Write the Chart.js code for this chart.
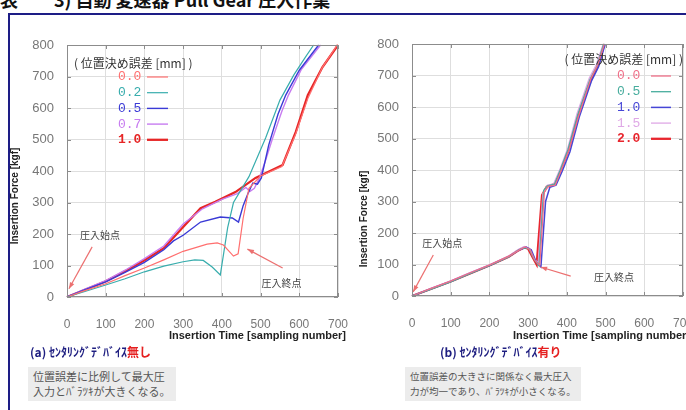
<!DOCTYPE html>
<html lang="ja">
<head>
<meta charset="utf-8">
<script src="https://cdn.jsdelivr.net/npm/chart.js"></script>
<style>
  html, body { margin: 0; padding: 0; }
  body {
    width: 686px; height: 410px; position: relative; overflow: hidden; background: #fff;
    font-family: 'Liberation Sans', 'Noto Sans CJK JP', sans-serif;
  }
  #heading {
    position: absolute; left: 0; top: -14px; white-space: nowrap; color: #111;
    font: bold 18px 'Noto Sans CJK JP', 'Liberation Sans', sans-serif;
  }
  .rule-top { position: absolute; left: 8px; top: 13px; width: 678px; height: 2px; background: #1d1d86; }
  .rule-left { position: absolute; left: 8px; top: 13px; width: 2px; height: 397px; background: #1d1d86; }
  .panel { position: absolute; top: 25px; width: 360px; height: 330px; }
  .caption {
    position: absolute; top: 343px; white-space: nowrap; color: #1d1d80;
    font: bold 12px 'Noto Sans CJK JP', sans-serif;
  }
  .caption em { font-style: normal; color: #e52020; }
  .note {
    position: absolute; top: 367px; padding: 2px 5px; background: #ececec; color: #555;
    font: 11px/15px 'Noto Sans CJK JP', sans-serif; white-space: nowrap;
  }
  .note.small { font-size: 9.5px; line-height: 15px; }
</style>
</head>
<body>
<div id="heading">表　　3) 自動 変速器 Pull Gear 圧入作業</div>
<div class="rule-top"></div>
<div class="rule-left"></div>

<div class="panel" style="left:0px"><canvas id="chartA" width="360" height="330"></canvas></div>
<div class="panel" style="left:345px"><canvas id="chartB" width="360" height="330"></canvas></div>

<div class="caption" style="left:30px">(a) ｾﾝﾀﾘﾝｸﾞﾃﾞﾊﾞｲｽ<em>無し</em></div>
<div class="caption" style="left:440px">(b) ｾﾝﾀﾘﾝｸﾞﾃﾞﾊﾞｲｽ<em>有り</em></div>
<div class="note" style="left:28px">位置誤差に比例して最大圧<br>入力とﾊﾞﾗﾂｷが大きくなる。</div>
<div class="note small" style="left:405px">位置誤差の大きさに関係なく最大圧入<br>力が均一であり、ﾊﾞﾗﾂｷが小さくなる。</div>

<script>
// axis ticks (shared by both panels)
const timeTicks = [0, 100, 200, 300, 400, 500, 600, 700];
const forceTicks = [0, 100, 200, 300, 400, 500, 600, 700, 800];

// (a) without centering device: misalignment [mm]
const errA = ['0.0', '0.2', '0.5', '0.7', '1.0'];
const timeA0 = [0, 40, 100, 150, 200, 250, 300, 362, 388, 404, 430, 442, 455, 470, 500, 555, 590, 622, 660, 698];
const forceA0 = [0, 18, 42, 68, 92, 118, 145, 168, 172, 165, 130, 137, 250, 345, 384, 414, 515, 630, 730, 800];
const timeA1 = [0, 40, 100, 150, 200, 250, 300, 330, 352, 375, 396, 415, 430, 470, 513, 550, 586, 615, 637];
const forceA1 = [0, 15, 38, 58, 80, 98, 112, 118, 116, 95, 70, 220, 300, 382, 505, 625, 705, 760, 800];
const timeA2 = [0, 40, 100, 150, 200, 250, 275, 300, 345, 396, 427, 443, 455, 469, 480, 492, 502, 521, 545, 565, 600, 650];
const forceA2 = [0, 20, 48, 78, 110, 150, 178, 196, 238, 254, 251, 238, 290, 333, 362, 358, 378, 482, 580, 641, 720, 800];
const timeA3 = [0, 40, 100, 150, 200, 250, 300, 350, 400, 440, 462, 472, 484, 496, 512, 530, 555, 572, 605, 655];
const forceA3 = [0, 22, 52, 85, 122, 162, 232, 280, 310, 328, 348, 335, 345, 375, 430, 500, 590, 641, 722, 800];
const timeA4 = [0, 40, 100, 150, 200, 250, 300, 345, 383, 435, 487, 557, 591, 622, 660, 700];
const forceA4 = [0, 20, 50, 82, 117, 155, 222, 282, 302, 333, 378, 419, 524, 641, 730, 800];

// (b) with centering device: misalignment [mm]
const errB = ['0.0', '0.5', '1.0', '1.5', '2.0'];
const timeB0 = [0, 50, 100, 150, 200, 250, 275, 292, 305, 318, 330, 342, 352, 370, 385, 405, 430, 462, 480, 497];
const forceB0 = [0, 24, 47, 73, 98, 126, 145, 156, 148, 112, 98, 330, 348, 352, 398, 462, 570, 690, 735, 800];
const timeB1 = [0, 50, 100, 150, 200, 250, 275, 290, 303, 316, 328, 340, 350, 368, 383, 403, 428, 460, 478, 495];
const forceB1 = [0, 22, 45, 71, 96, 124, 146, 153, 150, 115, 96, 335, 350, 355, 400, 465, 575, 688, 730, 800];
const timeB2 = [0, 50, 100, 150, 200, 250, 278, 295, 308, 320, 333, 345, 356, 372, 388, 408, 432, 464, 482, 499];
const forceB2 = [0, 23, 46, 72, 97, 125, 147, 155, 147, 110, 92, 300, 345, 352, 396, 458, 568, 684, 728, 800];
const timeB3 = [0, 50, 100, 150, 200, 250, 275, 290, 302, 315, 326, 338, 350, 366, 382, 402, 426, 458, 476, 494];
const forceB3 = [0, 25, 48, 74, 99, 127, 148, 157, 152, 120, 105, 325, 352, 356, 402, 468, 578, 692, 734, 800];
const timeB4 = [0, 50, 100, 150, 200, 250, 272, 290, 300, 312, 322, 336, 348, 368, 384, 404, 430, 462, 480, 497];
const forceB4 = [0, 23, 46, 72, 97, 125, 143, 154, 150, 122, 100, 320, 347, 355, 398, 462, 575, 686, 730, 800];

const FONT = "'Liberation Sans', 'Noto Sans CJK JP', sans-serif";
const JP = "'Noto Sans CJK JP', sans-serif";

function points(xs, ys) {
  return xs.map((t, i) => ({ x: t, y: ys[i] }));
}

function line(label, xs, ys, color, width) {
  return {
    label: label,
    data: points(xs, ys),
    borderColor: color,
    backgroundColor: color,
    borderWidth: width,
    pointRadius: 0,
    showLine: true,
    tension: 0,
    clip: 3
  };
}

function arrow(ctx, x1, y1, x2, y2) {
  const a = Math.atan2(y2 - y1, x2 - x1);
  ctx.beginPath();
  ctx.moveTo(x1, y1);
  ctx.lineTo(x2, y2);
  ctx.stroke();
  ctx.beginPath();
  ctx.moveTo(x2, y2);
  ctx.lineTo(x2 - 7 * Math.cos(a - 0.35), y2 - 7 * Math.sin(a - 0.35));
  ctx.lineTo(x2 - 7 * Math.cos(a + 0.35), y2 - 7 * Math.sin(a + 0.35));
  ctx.closePath();
  ctx.fill();
}

// frame, inward ticks, axis titles, legend block and the start/end notes
const panelDecor = {
  id: 'panelDecor',
  afterDatasetsDraw(chart, args, o) {
    const ctx = chart.ctx;
    const a = chart.chartArea;
    const xs = chart.scales.x, ys = chart.scales.y;
    ctx.save();

    ctx.strokeStyle = '#8c8c8c';
    ctx.lineWidth = 1;
    ctx.strokeRect(a.left + 0.5, a.top + 0.5, a.width - 1, a.height - 1);
    ctx.beginPath();
    timeTicks.forEach(t => {
      const px = Math.round(xs.getPixelForValue(t)) + 0.5;
      ctx.moveTo(px, a.bottom); ctx.lineTo(px, a.bottom - 4);
      ctx.moveTo(px, a.top); ctx.lineTo(px, a.top + 4);
    });
    forceTicks.forEach(v => {
      const py = Math.round(ys.getPixelForValue(v)) + 0.5;
      ctx.moveTo(a.left, py); ctx.lineTo(a.left + 4, py);
      ctx.moveTo(a.right, py); ctx.lineTo(a.right - 4, py);
    });
    ctx.stroke();

    // axis titles
    ctx.fillStyle = '#222';
    ctx.font = 'bold 11px ' + FONT;
    ctx.textAlign = 'right';
    ctx.textBaseline = 'middle';
    ctx.fillText('Insertion Time [sampling number]', o.xTitleRight, o.xTitleY);
    ctx.font = 'bold 10px ' + FONT;
    ctx.save();
    ctx.translate(o.yTitleX, o.yTitleY);
    ctx.rotate(-Math.PI / 2);
    ctx.textAlign = 'center';
    ctx.fillText('Insertion Force [kgf]', 0, 0);
    ctx.restore();

    // legend
    ctx.fillStyle = '#333';
    ctx.font = '12px ' + JP;
    ctx.textAlign = o.legendAlign;
    ctx.fillText('( 位置決め誤差 [mm] )', o.legendTitleX, a.top + o.legendTitleDy);
    chart.data.datasets.forEach((ds, i) => {
      const y = a.top + o.legendDy + i * 15.7;
      const last = i === chart.data.datasets.length - 1;
      ctx.fillStyle = ds.borderColor;
      ctx.font = (last ? 'bold ' : '') + "13px 'Liberation Mono', monospace";
      ctx.textAlign = 'left';
      ctx.fillText(ds.label, o.legendX, y);
      ctx.strokeStyle = ds.borderColor;
      ctx.lineWidth = ds.borderWidth;
      ctx.beginPath();
      ctx.moveTo(o.legendLineX, y);
      ctx.lineTo(o.legendLineX + o.legendLineLen, y);
      ctx.stroke();
    });

    // start / end of press-fit
    ctx.strokeStyle = '#ec7070';
    ctx.fillStyle = '#ec7070';
    ctx.lineWidth = 1.2;
    o.notes.forEach(n => {
      arrow(ctx, xs.getPixelForValue(n.from[0]), ys.getPixelForValue(n.from[1]),
                 xs.getPixelForValue(n.to[0]), ys.getPixelForValue(n.to[1]));
    });
    ctx.fillStyle = '#444';
    ctx.font = '10px ' + JP;
    ctx.textAlign = 'center';
    o.notes.forEach(n => {
      ctx.fillText(n.text, xs.getPixelForValue(n.at[0]), ys.getPixelForValue(n.at[1]));
    });
    ctx.restore();
  }
};

function makeChart(id, datasets, decor, padTop, axisHeight) {
  return new Chart(document.getElementById(id), {
    type: 'scatter',
    data: { datasets: datasets },
    plugins: [panelDecor],
    options: {
      responsive: false,
      animation: false,
      events: [],
      layout: { padding: { top: padTop, right: 22, left: 0, bottom: 0 } },
      plugins: {
        legend: { display: false },
        tooltip: { enabled: false },
        panelDecor: decor
      },
      scales: {
        x: {
          type: 'linear',
          min: timeTicks[0],
          max: timeTicks[timeTicks.length - 1],
          afterBuildTicks: s => { s.ticks = timeTicks.map(v => ({ value: v })); },
          afterFit: s => { s.height = axisHeight; s.paddingLeft = 0; s.paddingRight = 0; },
          grid: { color: '#dedede', drawTicks: false },
          border: { display: false },
          ticks: { color: '#777', padding: 20, font: { family: FONT, size: 12 }, maxRotation: 0 }
        },
        y: {
          type: 'linear',
          min: forceTicks[0],
          max: forceTicks[forceTicks.length - 1],
          afterBuildTicks: s => { s.ticks = forceTicks.map(v => ({ value: v })); },
          afterFit: s => { s.width = 67; s.paddingTop = 0; s.paddingBottom = 0; },
          grid: { color: '#dedede', drawTicks: false },
          border: { display: false },
          ticks: { color: '#777', padding: 13, font: { family: FONT, size: 13 } }
        }
      }
    }
  });
}

makeChart('chartA', [
  line(errA[0], timeA0, forceA0, '#ff6f6f', 1.2),
  line(errA[1], timeA1, forceA1, '#38adad', 1.2),
  line(errA[2], timeA2, forceA2, '#3a3ad6', 1.4),
  line(errA[3], timeA3, forceA3, '#c77cf0', 1.4),
  line(errA[4], timeA4, forceA4, '#e62626', 2.3)
], {
  xTitleRight: 346, xTitleY: 311,
  yTitleX: 15, yTitleY: 171,
  legendAlign: 'left', legendTitleX: 74, legendTitleDy: 18,
  legendX: 118, legendDy: 32, legendLineX: 147, legendLineLen: 21,
  notes: [
    { text: '圧入始点', at: [85, 195], from: [65, 159], to: [5, 26] },
    { text: '圧入終点', at: [554, 44], from: [557, 92], to: [466, 152] }
  ]
}, 20, 58);

makeChart('chartB', [
  line(errB[0], timeB0, forceB0, '#f07089', 1.3),
  line(errB[1], timeB1, forceB1, '#48ad9e', 1.3),
  line(errB[2], timeB2, forceB2, '#4646d6', 1.5),
  line(errB[3], timeB3, forceB3, '#dfa8e6', 1.3),
  line(errB[4], timeB4, forceB4, '#e8262e', 2.3)
], {
  xTitleRight: 345, xTitleY: 311,
  yTitleX: 19, yTitleY: 194,
  legendAlign: 'right', legendTitleX: 338, legendTitleDy: 15,
  legendX: 272, legendDy: 32, legendLineX: 306, legendLineLen: 20,
  notes: [
    { text: '圧入始点', at: [78, 168], from: [55, 130], to: [3, 13] },
    { text: '圧入終点', at: [522, 60], from: [410, 63], to: [332, 92] }
  ]
}, 19, 59);
</script>
</body>
</html>
